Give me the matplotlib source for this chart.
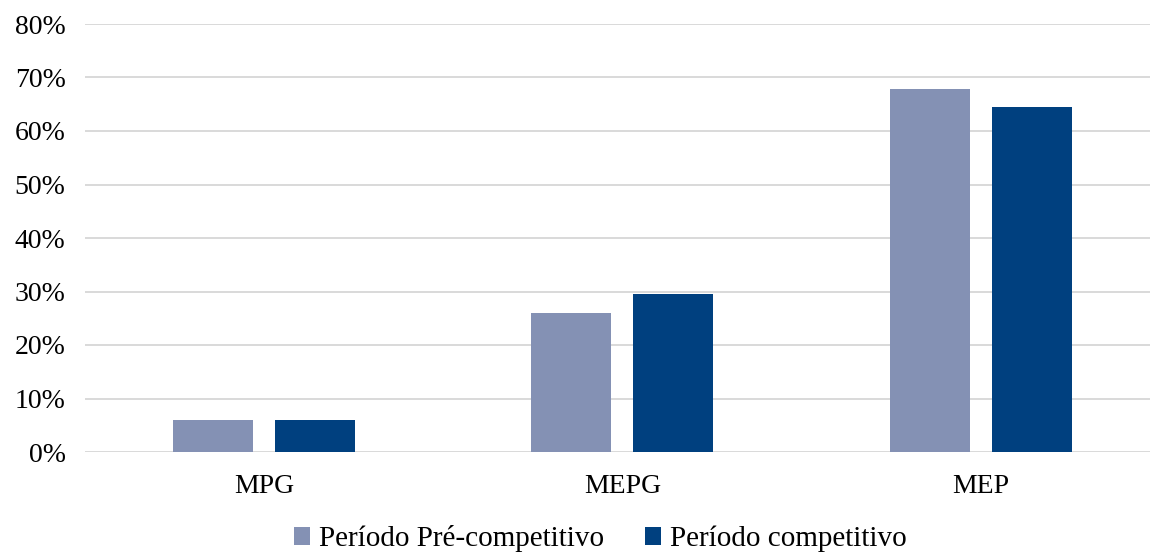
import matplotlib.pyplot as plt
import numpy as np
from matplotlib.ticker import PercentFormatter

plt.rcParams["font.family"] = ["Liberation Serif", "DejaVu Serif"]
plt.rcParams["font.size"] = 20

# dados
categorias = ["MPG", "MEPG", "MEP"]
pre_competitivo = [0.059, 0.26, 0.679]
competitivo = [0.059, 0.295, 0.645]
series = ["Período Pré-competitivo", "Período competitivo"]
cores = ["#8491B4", "#00407F"]

fig = plt.figure(figsize=(11.59, 5.56), dpi=100)
ax = fig.add_axes([85 / 1159, 1 - 452 / 556, (1150 - 85) / 1159, (452 - 24) / 556])

x = np.arange(len(categorias))
w = 0.223
off = 0.142
ax.bar(x - off, pre_competitivo, w, color=cores[0], label=series[0], zorder=3)
ax.bar(x + off, competitivo, w, color=cores[1], label=series[1], zorder=3)

ax.set_xlim(-0.499, 2.472)
ax.set_ylim(0, 0.8)
ax.set_yticks(np.arange(0, 0.81, 0.1))
ax.yaxis.set_major_formatter(PercentFormatter(1.0, decimals=0))
ax.set_xticks(x)
ax.set_xticklabels(categorias)
ax.grid(axis="y", color="#D9D9D9", linewidth=1.4, zorder=0)
for s in ax.spines.values():
    s.set_visible(False)
ax.tick_params(length=0)
ax.tick_params(axis="x", pad=16)
ax.tick_params(axis="y", pad=14)

fig.legend(loc="center", bbox_to_anchor=(0.518, 1 - 539 / 556), ncol=2, frameon=False,
           fontsize=21, handlelength=0.55, handleheight=0.55, handletextpad=0.3,
           columnspacing=1.4)

fig.savefig("out.png", dpi=100)
